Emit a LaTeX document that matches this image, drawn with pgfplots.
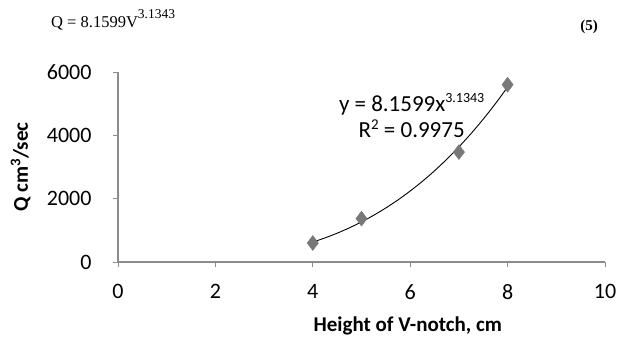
\documentclass[border=0pt]{standalone}
\usepackage{pgfplots}
\pgfplotsset{compat=1.18}
\usepackage{fontspec}
\setmainfont{Carlito}
\newfontfamily\serif{Liberation Serif}

\definecolor{axisgray}{RGB}{140,140,140}
\definecolor{markgray}{RGB}{120,120,120}

% measured discharge
\pgfplotstableread{
x y
4 600
5 1370
7 3470
8 5600
}\measured

% power trendline y = 8.1599 x^3.1343, tabulated
\pgfplotstableread{
x y
4.00 629.2
4.25 760.8
4.50 910.0
4.75 1078.1
5.00 1266.1
5.25 1475.3
5.50 1706.9
5.75 1962.1
6.00 2242.1
6.25 2548.1
6.50 2881.4
6.75 3243.2
7.00 3634.8
7.25 4057.3
7.50 4512.2
7.75 5000.6
8.00 5523.8
}\trend

\newcommand\sups[1]{\raisebox{9pt}{\fontsize{14}{16}\selectfont #1}}

\begin{document}
\begin{tikzpicture}
\useasboundingbox (0pt,0pt) rectangle (617pt,338pt);
\node[anchor=base west,inner sep=0pt,font=\serif\fontsize{16.5}{19}\selectfont] at (51pt,310pt)
  {Q = 8.1599V\raisebox{9pt}{\fontsize{13.5}{15}\selectfont 3.1343}};
\node[anchor=base east,inner sep=0pt,font=\serif\bfseries\fontsize{15}{18}\selectfont] at (598pt,307pt) {(5)};
\begin{axis}[
  at={(118pt,76pt)}, anchor=origin,
  scale only axis, width=487pt, height=190pt,
  xmin=0, xmax=10, ymin=0, ymax=6000,
  xtick={0,2,...,10}, ytick={0,2000,...,6000},
  axis x line*=bottom, axis y line*=left,
  axis line style={axisgray, line width=1.2pt, -},
  tick style={axisgray, line width=1pt},
  tick align=outside, major tick length=5pt,
  /pgf/number format/assume math mode=true,
  /pgf/number format/1000 sep={},
  tick label style={font=\fontsize{22}{26}\selectfont, black},
  xticklabel style={yshift=-14pt},
  yticklabel style={xshift=-18pt},
  xlabel={\bfseries Height of V-notch, cm},
  ylabel={\bfseries Q cm\textsuperscript{3}/sec},
  label style={font=\fontsize{21}{25}\selectfont},
  xlabel style={at={(axis description cs:0.595,-0.335)}, anchor=center},
  ylabel style={at={(axis description cs:-0.2,0.5)}, anchor=center},
  clip=false,
]
\addplot[black, line width=0.9pt, smooth] table[x=x,y=y] {\trend};
\addplot[only marks, mark=diamond*, mark size=7.5pt,
  mark options={fill=markgray, draw=markgray}] table[x=x,y=y] {\measured};
\node[font=\fontsize{23}{26}\selectfont, align=center, inner sep=0pt] at (axis cs:6.03,4620)
  {y = 8.1599x\sups{3.1343}\\R\raisebox{8pt}{\fontsize{15}{16}\selectfont 2} = 0.9975};
\end{axis}
\end{tikzpicture}
\end{document}
